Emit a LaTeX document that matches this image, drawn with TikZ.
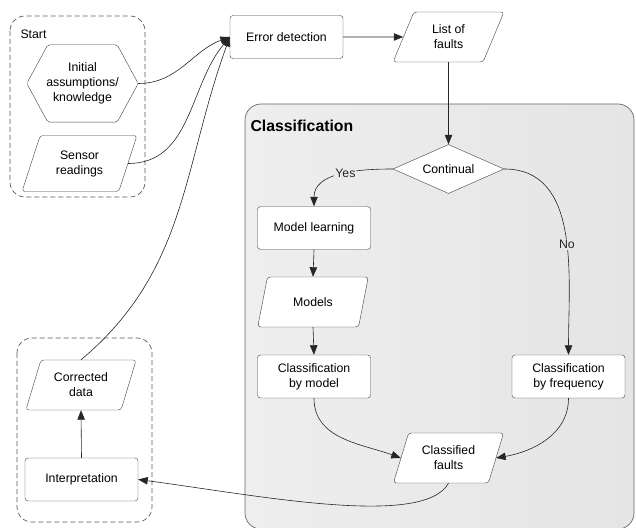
\documentclass[tikz,border=0pt]{standalone}
\usepackage{fontspec}
\setmainfont{Liberation Sans}
\usetikzlibrary{arrows.meta,calc,shapes.geometric}

\definecolor{boxgraylight}{HTML}{EEEEEE}
\definecolor{boxgraydark}{HTML}{E5E5E5}

\tikzset{
  procbox/.style={draw=black!75, fill=white, rounded corners=3pt, minimum width=113pt,
    minimum height=43pt, align=center, inner sep=2pt},
  databox/.style={draw=black!75, fill=white, trapezium, trapezium left angle=68,
    trapezium right angle=112, trapezium stretches=true, rounded corners=3pt,
    minimum width=111pt, minimum height=50pt, align=center, inner sep=1pt},
  decbox/.style={draw=black!75, fill=white, diamond, aspect=2.3, minimum width=111pt,
    minimum height=49pt, inner sep=0pt},
  conn/.style={-{Triangle[length=9.5pt,width=7.5pt]}, black!85, line width=0.6pt},
  grouprect/.style={draw=black!65, dash pattern=on 5pt off 3pt, rounded corners=15pt, line width=0.7pt},
  edgelabel/.style={inner sep=1pt}
}

\begin{document}
\begin{tikzpicture}[x=1pt, y=1pt, font=\fontsize{12.3}{15}\selectfont]
  \useasboundingbox (0,0) rectangle (636,527);

  %%%%% groups %%%%%
  \draw[draw=black!60, rounded corners=16pt, left color=boxgraylight, right color=boxgraydark, line width=0.7pt]
    (245,423) rectangle (634,-2);
  \node[anchor=west, font=\fontsize{15.8}{18}\selectfont\bfseries] (classlbl) at (247,401) {Classification};

  \draw[grouprect] (10,511) rectangle (145,330);
  \node[anchor=west] (startlbl) at (17,493) {Start};
  \draw[grouprect] (17,189) rectangle (152,5);

  %%%%% nodes %%%%%
  \node[minimum width=111pt, minimum height=77pt, align=center] (initk) at (82.5,443.5)
    {Initial\\assumptions/\\knowledge};
  \draw[draw=black!75, rounded corners=2pt] (initk.west) -- ($(initk.north west)+(21,0)$)
    -- ($(initk.north east)+(-21,0)$) -- (initk.east) -- ($(initk.south east)+(-21,0)$)
    -- ($(initk.south west)+(21,0)$) -- cycle;
  \node[databox, minimum width=115pt, minimum height=56pt] (sensor) at (79.5,363.5) {Sensor\\readings};

  \node[procbox] (errdet) at (286.5,490) {Error detection};
  \node[databox] (faults) at (448.5,490) {List of\\faults};
  \node[decbox] (cont) at (448.5,358) {Continual};
  \node[procbox] (mlearn) at (314,299) {Model learning};
  \node[databox] (models) at (313,225) {Models};
  \node[procbox] (bymodel) at (314,150.5) {Classification\\by model};
  \node[procbox] (byfreq) at (568.5,150.5) {Classification\\by frequency};
  \node[databox] (classf) at (448.5,69) {Classified\\faults};

  \node[procbox] (interp) at (81.5,47.5) {Interpretation};
  \node[databox] (corr) at (81,142) {Corrected\\data};

  %%%%% connectors %%%%%
  \draw[conn] (initk.east) to[out=0, in=200] (errdet.west);
  \draw[conn] (sensor.east) to[out=0, in=230] (errdet.west);
  \draw[conn] (corr.north) to[out=40, in=250] (errdet.west);
  \draw[conn] (errdet.east) -- (faults.west);
  \draw[conn] (faults.south) -- (cont.north);
  \draw[conn] (cont.west) to[out=180, in=90]
    node[edgelabel, fill=boxgraylight!60!boxgraydark, pos=0.45] {Yes} (mlearn.north);
  \draw[conn] (cont.east) to[out=0, in=90]
    node[edgelabel, fill=boxgraylight!20!boxgraydark, pos=0.55] {No} (byfreq.north);
  \draw[conn] (mlearn.south) -- (models.north);
  \draw[conn] (models.south) -- (bymodel.north);
  \draw[conn] (bymodel.south) to[out=270, in=160] (classf.west);
  \draw[conn] (byfreq.south) to[out=270, in=10] (classf.east);
  \draw[conn] (classf.south) .. controls +(-25,-45) and +(120,-16) .. (interp.east);
  \draw[conn] (interp.north) -- (corr.south);
\end{tikzpicture}
\end{document}
